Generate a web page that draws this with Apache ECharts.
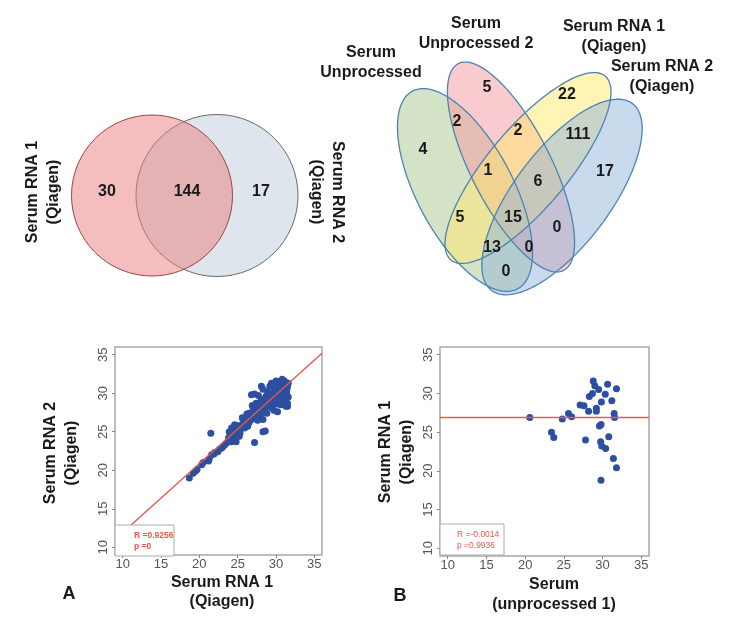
<!DOCTYPE html>
<html><head><meta charset="utf-8">
<script src="https://cdn.jsdelivr.net/npm/echarts@6/dist/echarts.min.js"></script>
<style>html,body{margin:0;padding:0;background:#fff}#c{width:746px;height:625px}</style>
</head><body><div id="c"></div>
<script>
// ---------------- DATA ----------------
const venn2Sets = ['Serum RNA 1\n(Qiagen)', 'Serum RNA 2\n(Qiagen)'];
const venn2Counts = [30, 144, 17];               // only set1, both, only set2
const venn4Sets = ['Serum\nUnprocessed', 'Serum\nUnprocessed 2', 'Serum RNA 1\n(Qiagen)', 'Serum RNA 2\n(Qiagen)'];
const venn4Regions = ['1','2','3','4','12','23','34','123','234','13','1234','24','134','124','14'];
const venn4Counts  = [4, 5, 22, 17, 2, 2, 111, 1, 6, 5, 15, 0, 13, 0, 0];
const tickValues = [10, 15, 20, 25, 30, 35];
const scatterA = [
 [18.7,19.0],[19.2,19.6],[19.5,19.9],[19.7,20.1],[20.3,20.7],[20.5,21.0],[21.2,21.2],[21.3,21.5],[21.6,22.0],[21.9,22.1],
 [22.0,22.3],[21.5,24.8],[22.4,22.4],[22.6,22.7],[22.9,22.9],[23.1,23.1],[23.3,23.3],[23.5,23.5],[23.7,23.7],[23.9,23.9],
 [24.2,23.7],[24.4,24.0],[24.8,23.7],[24.6,24.2],[24.2,24.2],[24.4,24.6],[23.9,25.0],[24.2,25.5],[24.4,25.3],[24.8,24.2],
 [25.0,25.0],[25.2,24.4],[25.3,24.8],[24.0,24.8],[24.6,25.9],[25.0,25.5],[25.3,25.2],[25.5,25.7],[25.7,26.1],[25.9,26.1],
 [25.9,25.5],[26.1,26.9],[26.3,25.7],[26.3,26.5],[26.5,26.2],[26.5,27.4],[26.8,26.6],[26.8,27.0],[26.8,29.8],[27.0,28.1],
 [27.2,27.6],[27.2,29.9],[27.2,23.6],[27.4,28.7],[27.4,27.0],[27.6,27.4],[27.6,28.1],[27.6,26.5],[27.8,28.3],[27.8,27.2],
 [28.0,27.6],[28.1,27.4],[28.1,29.2],[28.1,30.9],[28.3,30.5],[28.3,26.6],[28.3,25.0],[28.6,25.1],[28.4,28.0],[28.5,28.7],
 [28.5,27.9],[28.7,29.6],[28.7,28.3],[28.9,30.2],[28.9,28.3],[29.0,29.0],[29.2,30.9],[29.2,28.6],[29.4,31.3],[29.4,28.1],
 [29.5,29.5],[29.6,29.4],[29.6,31.1],[29.8,28.7],[29.8,30.5],[29.8,29.9],[30.0,31.6],[30.0,30.2],[30.0,29.2],[30.2,27.6],
 [30.2,29.2],[30.2,30.5],[30.4,31.1],[30.4,29.8],[30.5,31.5],[30.6,28.5],[30.7,30.5],[30.7,29.0],[30.9,28.9],[30.9,29.6],
 [31.0,29.0],[31.1,30.5],[31.1,29.8],[31.1,31.6],[31.3,31.1],[31.3,28.3],[31.4,30.2],[31.5,28.7],[31.5,28.3],[31.6,29.5],
 [31.6,31.3],[31.5,30.8],[30.8,31.8],[29.9,30.9],[28.6,29.1],[27.9,28.8],[27.0,27.2],[26.6,26.7],[26.0,26.2],[25.4,25.8],
 [25.1,25.3],[27.3,28.3],[28.8,27.4],[29.3,29.9],[30.3,30.2],[29.7,27.8],[26.9,28.4],[27.7,29.7],[28.2,28.9],[29.1,29.5],
 [30.6,30.9],[31.2,30.0],[30.1,28.6],[26.2,27.3],[25.6,26.8],[24.9,25.8],[24.5,24.7],[23.8,24.2]
];
const scatterB = [
 [20.6,26.9],[23.4,25.0],[23.7,24.3],[24.8,26.7],[25.6,27.4],[26.0,27.0],[27.1,28.5],[27.6,28.4],[27.8,24.0],[28.2,27.7],
 [28.3,29.6],[28.7,30.0],[28.8,31.6],[29.0,31.0],[29.2,28.1],[29.2,27.7],[29.5,30.5],[29.85,28.9],[30.35,29.9],[30.65,31.2],
 [29.6,25.8],[29.8,26.0],[29.75,23.75],[29.9,23.2],[30.4,22.9],[30.8,24.4],[31.2,29.05],[31.4,21.6],[31.5,27.4],[31.55,26.9],
 [31.8,20.4],[31.8,30.6],[29.8,18.8]
];
const fitA = [[9, 11.0], [36, 35.2]];
const fitB = [[9, 26.9], [36, 26.9]];
const statsA = 'R =0.9256\np =0';
const statsB = 'R =-0.0014\np =0.9936';
const xTitleA = 'Serum RNA 1\n(Qiagen)', yTitleA = 'Serum RNA 2\n(Qiagen)';
const xTitleB = 'Serum\n(unprocessed 1)', yTitleB = 'Serum RNA 1\n(Qiagen)';

// ---------------- LAYOUT / STYLE ----------------
const FONT = '"Liberation Sans", Arial, sans-serif';
const venn2Circles = [[217, 195.5, 81], [152, 195.5, 80.5]];          // drawn order: right then left
const venn2Styles = [
  {fill: 'rgba(189,203,217,0.5)', stroke: '#6a6a6a'},
  {fill: 'rgba(233,125,125,0.5)', stroke: '#9b4545'}
];
const venn2LabelPos = [[107, 192], [187, 192], [261, 192]];
// ellipses in layout pixels: cx, cy, semi-major, semi-minor, angle (deg, clockwise)
const venn4Ellipses = [[465,190,112,48,62],[511,167,116,40,63],[528,168,120,40,-50],[562,197,117,48,-53]];
const venn4Fill = ['rgba(169,197,141,0.5)','rgba(245,152,158,0.5)','rgba(255,232,110,0.5)','rgba(145,181,217,0.5)'];
const venn4LabelPos = [[423,150],[487,88],[567,95],[605,172],[457,122],[518,131],[578,135],[488,171],[538,182],[460,218],[513,218],[557,228],[492,248],[529,248],[506,272]];
const venn4SetLabelPos = [[371,63],[476,34],[614,37],[662,77]];

function ellipsePts(e, api) {
  const [cx, cy, a, b, rotDeg] = e, th = rotDeg * Math.PI / 180, pts = [];
  for (let i = 0; i < 144; i++) {
    const t = i / 144 * 2 * Math.PI;
    const lx = a * Math.cos(t), ly = b * Math.sin(t);
    pts.push(api.coord([cx + lx * Math.cos(th) - ly * Math.sin(th), cy + lx * Math.sin(th) + ly * Math.cos(th)]));
  }
  return pts;
}
function textItem(p, txt, size) {
  return {type: 'text', x: p[0], y: p[1], style: {text: txt, fill: '#1a1a1a', fontSize: size, fontWeight: 'bold', fontFamily: FONT, align: 'center', verticalAlign: 'middle'}};
}

const chart = echarts.init(document.getElementById('c'), null, {renderer: 'canvas'});

function sAxis(gi, isY) {
  return {
    gridIndex: gi, type: 'value', min: 9, max: 36,
    axisLine: {show: false}, splitLine: {show: false},
    axisTick: {show: true, length: 3, customValues: tickValues, lineStyle: {color: '#888'}},
    axisLabel: {customValues: tickValues, fontSize: 13, color: '#555', fontFamily: FONT, margin: isY ? 5 : 3, rotate: isY ? 90 : 0}
  };
}

const option = {
  backgroundColor: '#fff',
  animation: false,
  grid: [
    {left: 0, top: 0, width: 746, height: 625, show: false},
    {left: 115, top: 347, width: 207, height: 208, show: true, borderColor: '#a8a8a8', borderWidth: 1.5, backgroundColor: 'transparent'},
    {left: 440, top: 347, width: 209, height: 209, show: true, borderColor: '#a8a8a8', borderWidth: 1.5, backgroundColor: 'transparent'}
  ],
  xAxis: [
    {gridIndex: 0, type: 'value', min: 0, max: 746, show: false},
    sAxis(1, false), sAxis(2, false)
  ],
  yAxis: [
    {gridIndex: 0, type: 'value', min: 0, max: 625, inverse: true, show: false},
    sAxis(1, true), sAxis(2, true)
  ],
  series: [
    {type: 'custom', xAxisIndex: 0, yAxisIndex: 0, z: 1,
     data: venn2Circles.map((c, i) => [c[0], c[1], i]),
     renderItem: (params, api) => {
       const c = venn2Circles[params.dataIndex], s = venn2Styles[params.dataIndex];
       const p = api.coord([c[0], c[1]]);
       const r = api.size([c[2], 0])[0];
       return {type: 'circle', shape: {cx: p[0], cy: p[1], r: r}, style: {fill: s.fill, stroke: s.stroke, lineWidth: 1}};
     }},
    {type: 'custom', xAxisIndex: 0, yAxisIndex: 0, z: 5,
     data: venn2Counts.map((v, i) => [venn2LabelPos[i][0], venn2LabelPos[i][1], v]),
     renderItem: (params, api) => textItem(api.coord([api.value(0), api.value(1)]), String(api.value(2)), 16)},
    {type: 'custom', xAxisIndex: 0, yAxisIndex: 0, z: 1,
     data: venn4Ellipses.map((e, i) => [e[0], e[1], i]),
     renderItem: (params, api) => ({type: 'polygon', shape: {points: ellipsePts(venn4Ellipses[params.dataIndex], api)}, style: {fill: venn4Fill[params.dataIndex], stroke: null}})},
    {type: 'custom', xAxisIndex: 0, yAxisIndex: 0, z: 2,
     data: venn4Ellipses.map((e, i) => [e[0], e[1], i]),
     renderItem: (params, api) => ({type: 'polygon', shape: {points: ellipsePts(venn4Ellipses[params.dataIndex], api)}, style: {fill: 'none', stroke: '#4a84b6', lineWidth: 1.3}})},
    {type: 'custom', xAxisIndex: 0, yAxisIndex: 0, z: 5,
     data: venn4Counts.map((v, i) => [venn4LabelPos[i][0], venn4LabelPos[i][1], v]),
     renderItem: (params, api) => textItem(api.coord([api.value(0), api.value(1)]), String(api.value(2)), 16)},
    {type: 'scatter', xAxisIndex: 1, yAxisIndex: 1, data: scatterA, symbolSize: 7, itemStyle: {color: '#2c4f9f', opacity: 1}, z: 2},
    {type: 'line', xAxisIndex: 1, yAxisIndex: 1, data: fitA, symbol: 'none', lineStyle: {color: '#e8574c', width: 1.4}, z: 3, clip: true},
    {type: 'scatter', xAxisIndex: 2, yAxisIndex: 2, data: scatterB, symbolSize: 7, itemStyle: {color: '#2c4f9f', opacity: 1}, z: 2},
    {type: 'line', xAxisIndex: 2, yAxisIndex: 2, data: fitB, symbol: 'none', lineStyle: {color: '#e8574c', width: 1.4}, z: 3, clip: true}
  ],
  graphic: [
    {type: 'text', x: 43, y: 192, rotation: Math.PI / 2, z: 10, style: {text: venn2Sets[0], fontSize: 16, fontWeight: 'bold', fontFamily: FONT, fill: '#1a1a1a', align: 'center', verticalAlign: 'middle', lineHeight: 21}},
    {type: 'text', x: 327, y: 192, rotation: -Math.PI / 2, z: 10, style: {text: venn2Sets[1], fontSize: 16, fontWeight: 'bold', fontFamily: FONT, fill: '#1a1a1a', align: 'center', verticalAlign: 'middle', lineHeight: 21}},
    ...venn4Sets.map((s, i) => ({type: 'text', x: venn4SetLabelPos[i][0], y: venn4SetLabelPos[i][1], z: 10, style: {text: s, fontSize: 16, fontWeight: 'bold', fontFamily: FONT, fill: '#1a1a1a', align: 'center', verticalAlign: 'middle', lineHeight: 20}})),
    {type: 'rect', x: 115, y: 525, z: 20, shape: {width: 59, height: 31}, style: {fill: '#fff', stroke: '#aaa', lineWidth: 1}},
    {type: 'text', x: 134, y: 541, z: 21, style: {text: statsA, fontSize: 8.5, fontWeight: 'bold', fontFamily: FONT, fill: '#e8574c', align: 'left', verticalAlign: 'middle', lineHeight: 11}},
    {type: 'rect', x: 440, y: 524, z: 20, shape: {width: 64, height: 31}, style: {fill: '#fff', stroke: '#aaa', lineWidth: 1}},
    {type: 'text', x: 457, y: 540.5, z: 21, style: {text: statsB, fontSize: 8.5, fontFamily: FONT, fill: '#e8574c', align: 'left', verticalAlign: 'middle', lineHeight: 11}},
    {type: 'text', x: 222, y: 592, z: 10, style: {text: xTitleA, fontSize: 16, fontWeight: 'bold', fontFamily: FONT, fill: '#1a1a1a', align: 'center', verticalAlign: 'middle', lineHeight: 19}},
    {type: 'text', x: 61, y: 453, rotation: Math.PI / 2, z: 10, style: {text: yTitleA, fontSize: 16, fontWeight: 'bold', fontFamily: FONT, fill: '#1a1a1a', align: 'center', verticalAlign: 'middle', lineHeight: 21}},
    {type: 'text', x: 554, y: 595, z: 10, style: {text: xTitleB, fontSize: 16, fontWeight: 'bold', fontFamily: FONT, fill: '#1a1a1a', align: 'center', verticalAlign: 'middle', lineHeight: 20}},
    {type: 'text', x: 396, y: 452, rotation: Math.PI / 2, z: 10, style: {text: yTitleB, fontSize: 16, fontWeight: 'bold', fontFamily: FONT, fill: '#1a1a1a', align: 'center', verticalAlign: 'middle', lineHeight: 21}},
    {type: 'text', x: 69, y: 594, z: 10, style: {text: 'A', fontSize: 18, fontWeight: 'bold', fontFamily: FONT, fill: '#1a1a1a', align: 'center', verticalAlign: 'middle'}},
    {type: 'text', x: 400, y: 596, z: 10, style: {text: 'B', fontSize: 18, fontWeight: 'bold', fontFamily: FONT, fill: '#1a1a1a', align: 'center', verticalAlign: 'middle'}}
  ]
};
chart.setOption(option);
</script>
</body></html>
